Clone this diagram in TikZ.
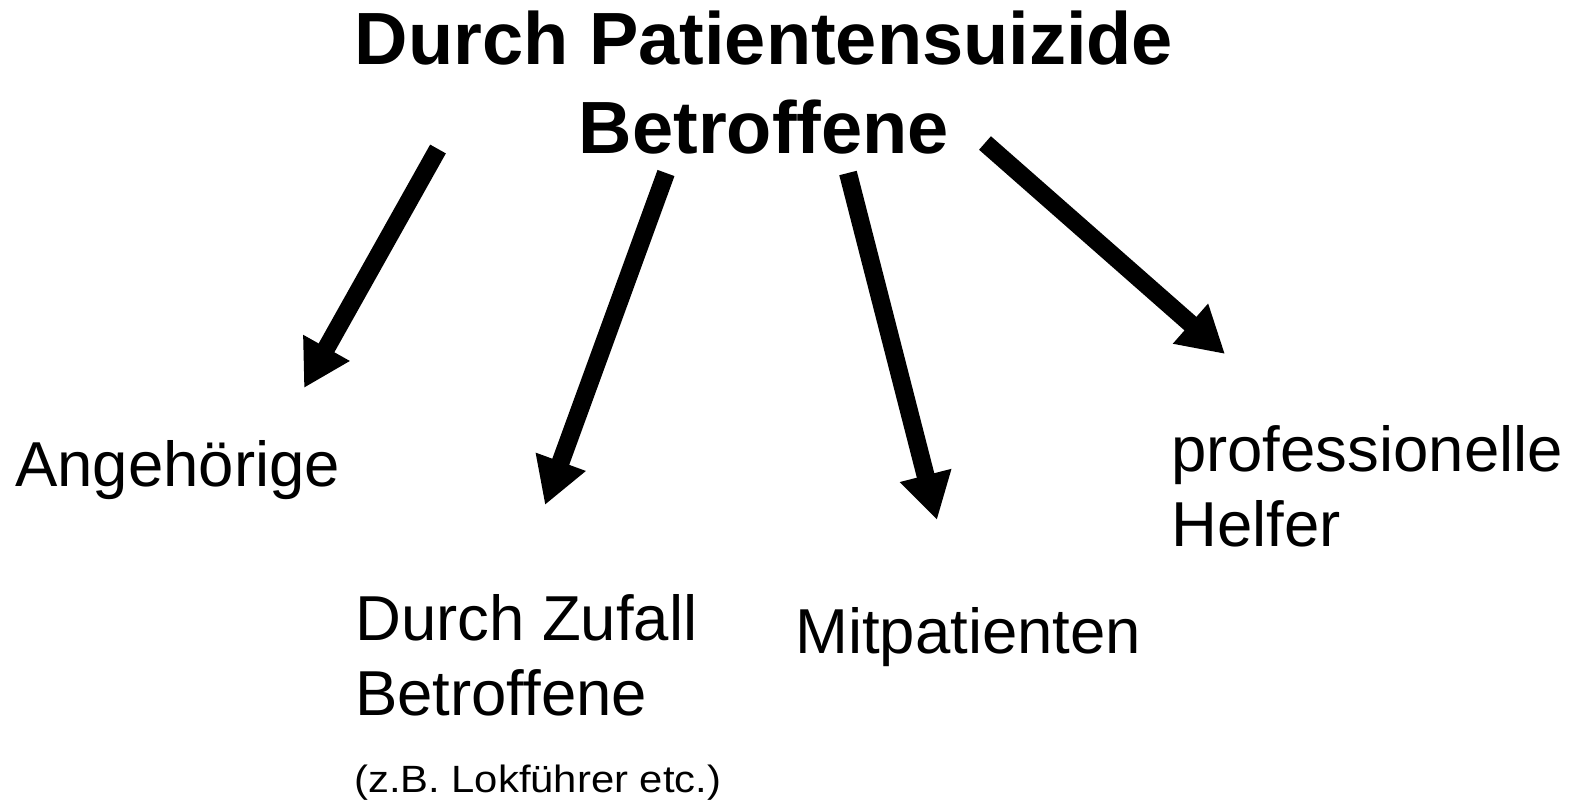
\documentclass[tikz,border=0pt]{standalone}
\usepackage{fontspec}
\setmainfont{Liberation Sans}
\usetikzlibrary{arrows.meta}
\tikzset{
  titel/.style={font=\fontsize{74}{89}\selectfont\bfseries, align=center, inner sep=0pt, anchor=base
  },
  gruppe/.style={font=\fontsize{63.5}{75}\selectfont, align=left, inner sep=0pt, anchor=base west
  },
  pfeil/.style={-{Triangle[length=46pt,width=50pt]}, line width=18pt
  }
}
\begin{document}
\begin{tikzpicture}[x=1pt,y=-1pt]
 \useasboundingbox (0,0) rectangle (1583,803);

 % base anchor sits on the last line
 \node[titel] (titel) at (764,153) {Durch Patientensuizide\\Betroffene};
 \node[gruppe] (angeh) at (15,486) {Angehörige};
 \node[gruppe] (zufall) at (355,715) {Durch Zufall\\Betroffene};
 \node[gruppe, font=\fontsize{38}{45}\selectfont, xscale=1.1] (bsp) at (354,792) {(z.B. Lokführer etc.)};
 \node[gruppe] (mitpat) at (795,653) {Mitpatienten};
 \node[gruppe] (helfer) at (1171,546) {professionelle\\Helfer};

 \coordinate (s1) at (438,149);
 \coordinate (e1) at (304,388);
 \coordinate (s2) at (666,173);
 \coordinate (e2) at (545,505);
 \coordinate (s3) at (848,173);
 \coordinate (e3) at (937,520);
 \coordinate (s4) at (985,143);
 \coordinate (e4) at (1225,354);

 \draw[pfeil] (s1) -- (e1);
 \draw[pfeil] (s2) -- (e2);
 \draw[pfeil] (s3) -- (e3);
 \draw[pfeil] (s4) -- (e4);
\end{tikzpicture}
\end{document}
